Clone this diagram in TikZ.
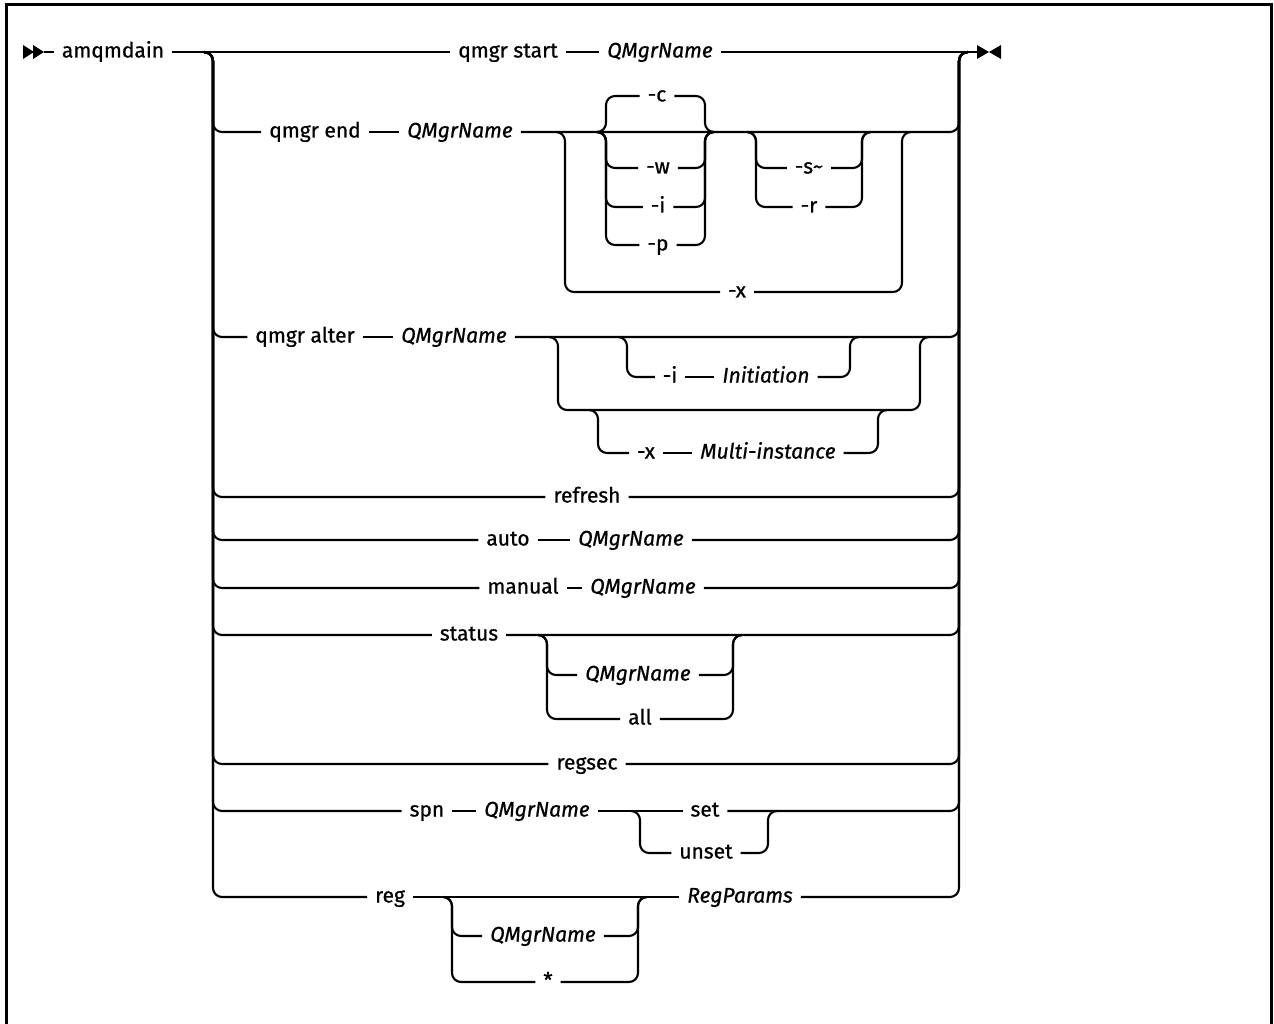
\documentclass[tikz,border=0pt]{standalone}
\usepackage{fontspec}
\setmainfont{Fira Sans}[FakeBold=0.8]
\begin{document}
\begin{tikzpicture}[x=1pt,y=-1pt,line width=2.1pt,
  lbl/.style={inner xsep=7pt,inner ysep=0pt,anchor=center,text height=16pt,text depth=5pt,font=\fontsize{21}{24}\selectfont},
  var/.style={lbl,font=\fontsize{21}{24}\selectfont\itshape},
  rc/.style={rounded corners=9pt}]
\useasboundingbox (0,0) rectangle (1274,1024);
% frame
\draw[line width=3pt] (6,1026) -- (6,5) -- (1271,5) -- (1271,1026);
% start / end symbols
\fill (23,45) -- (34,52) -- (23,59) -- cycle;
\fill (33,45) -- (44,52) -- (33,59) -- cycle;
\coordinate (st) at (44,52);
\coordinate (en) at (977,52);
\fill (977,45) -- (989,52) -- (977,59) -- cycle;
\fill (1001,45) -- (989,52) -- (1001,59) -- cycle;
\coordinate (Ls) at (204,52);
\coordinate (Lr) at (213,52);
\coordinate (Rr) at (959,52);
\coordinate (Re) at (968,52);

% nodes
\node[lbl] (amq) at (113,52) {amqmdain};
\node[lbl] (qs) at (508,52) {qmgr start};
\node[var] (qn1) at (660,52) {QMgrName};
\node[lbl] (qe) at (315,132) {qmgr end};
\node[var] (qn2) at (460,132) {QMgrName};
\node[lbl] (oc) at (657,96) {-c};
\node[lbl] (ow) at (658,168) {-w};
\node[lbl] (oi) at (658,207) {-i};
\node[lbl] (op) at (658,245) {-p};
\node[lbl] (os) at (809,168) {-s\textasciitilde};
\node[lbl] (or) at (809,207) {-r};
\node[lbl] (ox) at (737,292) {-x};
\node[lbl] (qa) at (305,337) {qmgr alter};
\node[var] (qn3) at (454,337) {QMgrName};
\node[lbl] (ai) at (670,377) {-i};
\node[var] (init) at (766,377) {Initiation};
\node[lbl] (ax) at (646,453) {-x};
\node[var] (multi) at (768,453) {Multi-instance};
\node[lbl] (ref) at (587,497) {refresh};
\node[lbl] (au) at (508,540) {auto};
\node[var] (qn4) at (631,540) {QMgrName};
\node[lbl] (ma) at (523,588) {manual};
\node[var] (qn5) at (643,588) {QMgrName};
\node[lbl] (stt) at (469,635) {status};
\node[var] (qns) at (638,675) {QMgrName};
\node[lbl] (all) at (640,719) {all};
\node[lbl] (rs) at (587,764) {regsec};
\node[lbl] (spn) at (427,811) {spn};
\node[var] (qn6) at (537,811) {QMgrName};
\node[lbl] (set) at (705,811) {set};
\node[lbl] (unset) at (706,853) {unset};
\node[lbl] (reg) at (390,897) {reg};
\node[var] (qn7) at (543,936) {QMgrName};
\node[lbl] (star) at (548,982) {*};
\node[var] (regp) at (740,897) {RegParams};

% main line
\draw (st) -- (amq.west);
\draw (amq.east) -- (qs.west);
\draw (qs.east) -- (qn1.west);
\draw (qn1.east) -- (en);

% left rail branches
\foreach \n in {qe,qa,ref,au,ma,stt,rs,spn,reg}
  \draw[rc] (Ls) -- (Lr) |- (\n.west);
% right rail branches
\foreach \n in {qn2,qn3,ref,qn4,qn5,stt,rs,set,regp}
  \draw[rc] (\n.east) -| (Rr) -- (Re);

% inner dashes
\draw (qe.east) -- (qn2.west);
\draw (qa.east) -- (qn3.west);
\draw (au.east) -- (qn4.west);
\draw (ma.east) -- (qn5.west);
\draw (spn.east) -- (qn6.west);
\draw (qn6.east) -- (set.west);
\draw (reg.east) -- (regp.west);
\draw (ai.east) -- (init.west);
\draw (ax.east) -- (multi.west);

% qmgr end: -c/-w/-i/-p group
\coordinate (cL0) at (597,132); \coordinate (cL) at (606,132);
\coordinate (cR) at (705,132); \coordinate (cR0) at (714,132);
\foreach \n in {oc,ow,oi,op} {
  \draw[rc] (cL0) -- (cL) |- (\n.west);
  \draw[rc] (\n.east) -| (cR) -- (cR0);
}
% -s~/-r group
\coordinate (sL0) at (747,132); \coordinate (sL) at (756,132);
\coordinate (sR) at (862,132); \coordinate (sR0) at (871,132);
\foreach \n in {os,or} {
  \draw[rc] (sL0) -- (sL) |- (\n.west);
  \draw[rc] (\n.east) -| (sR) -- (sR0);
}
% -x loop
\coordinate (xL0) at (556,132); \coordinate (xL) at (565,132);
\coordinate (xR) at (902,132); \coordinate (xR0) at (911,132);
\draw[rc] (xL0) -- (xL) |- (ox.west);
\draw[rc] (ox.east) -| (xR) -- (xR0);

% qmgr alter groups
\coordinate (oL0) at (549,337); \coordinate (oL) at (558,337);
\coordinate (oB1) at (558,410); \coordinate (oB2) at (920,410);
\coordinate (oR) at (920,337); \coordinate (oR0) at (929,337);
\draw[rc] (oL0) -- (oL) -- (oB1) -- (oB2) -- (oR) -- (oR0);
\coordinate (iL0) at (618,337); \coordinate (iL) at (627,337);
\coordinate (iR) at (850,337); \coordinate (iR0) at (859,337);
\draw[rc] (iL0) -- (iL) |- (ai.west);
\draw[rc] (init.east) -| (iR) -- (iR0);
\coordinate (mL0) at (589,410); \coordinate (mL) at (598,410);
\coordinate (mR) at (878,410); \coordinate (mR0) at (887,410);
\draw[rc] (mL0) -- (mL) |- (ax.west);
\draw[rc] (multi.east) -| (mR) -- (mR0);

% status group
\coordinate (tL0) at (538,635); \coordinate (tL) at (547,635);
\coordinate (tR) at (733,635); \coordinate (tR0) at (742,635);
\foreach \n in {qns,all} {
  \draw[rc] (tL0) -- (tL) |- (\n.west);
  \draw[rc] (\n.east) -| (tR) -- (tR0);
}

% spn group
\coordinate (pL0) at (631,811); \coordinate (pL) at (640,811);
\coordinate (pR) at (768,811); \coordinate (pR0) at (777,811);
\draw[rc] (pL0) -- (pL) |- (unset.west);
\draw[rc] (unset.east) -| (pR) -- (pR0);

% reg group
\coordinate (gL0) at (443,897); \coordinate (gL) at (452,897);
\coordinate (gR) at (638,897); \coordinate (gR0) at (647,897);
\foreach \n in {qn7,star} {
  \draw[rc] (gL0) -- (gL) |- (\n.west);
  \draw[rc] (\n.east) -| (gR) -- (gR0);
}
\end{tikzpicture}
\end{document}
